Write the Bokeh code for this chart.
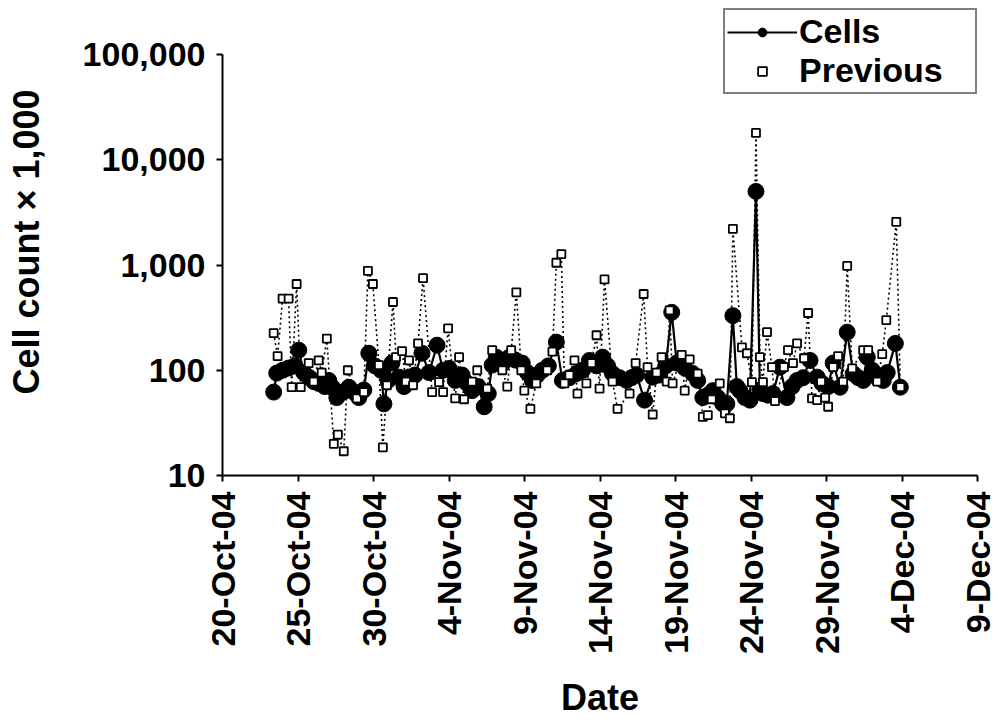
import math
from bokeh.plotting import figure
from bokeh.models import FixedTicker, Legend, LegendItem, Range1d
from bokeh.embed import file_html
from bokeh.resources import INLINE

# ---- data (days since 20-Oct-04, cell count x 1,000) ----
cells_days = [3.39, 3.59, 3.98, 4.38, 4.78, 5.05, 5.38, 5.71, 6.04, 6.37, 6.77, 7.04, 7.30, 7.57,
              7.97, 8.37, 8.70, 9.03, 9.36, 9.69, 10.09, 10.49, 10.69, 10.96, 11.22, 11.69, 12.02,
              12.35, 12.75, 13.21, 13.68, 14.21, 14.61, 15.01, 15.41, 15.87, 16.20, 16.53, 16.93,
              17.33, 17.60, 17.86, 18.13, 18.53, 18.99, 19.39, 19.85, 20.19, 20.52, 20.85, 21.18,
              21.58, 22.11, 22.51, 22.98, 23.44, 23.84, 24.30, 24.77, 25.17, 25.50, 25.83, 26.29,
              26.76, 27.09, 27.42, 27.95, 28.49, 28.95, 29.35, 29.75, 30.08, 30.61, 31.14, 31.47,
              31.81, 32.14, 32.47, 32.80, 33.13, 33.40, 33.80, 34.06, 34.26, 34.60, 34.93, 35.33,
              35.59, 35.79, 36.12, 36.45, 36.92, 37.38, 37.72, 38.05, 38.45, 38.91, 39.38, 39.71,
              40.11, 40.44, 40.90, 41.37, 41.77, 42.10, 42.43, 42.70, 43.03, 43.36, 43.76, 44.02,
              44.56, 44.89]
cells = [62, 94, 100, 105, 110, 155, 95, 86, 78, 75, 70, 80, 68, 55,
         62, 69, 62, 55, 65, 145, 110, 100, 48, 80, 117, 86, 70,
         86, 90, 145, 95, 173, 100, 104, 80, 90, 75, 64, 70,
         45, 60, 112, 133, 115, 133, 125, 117, 95, 80, 90, 100,
         110, 185, 80, 85, 93, 100, 124, 110, 133, 110, 93, 85,
         80, 85, 90, 52, 86, 90, 110, 355, 117, 105, 93, 80,
         55, 58, 64, 55, 48, 48, 330, 70, 64, 55, 52, 5000,
         65, 60, 58, 60, 107, 55, 70, 80, 85, 124, 86, 75,
         70, 117, 69, 230, 93, 85, 80, 133, 100, 85, 80, 95,
         180, 69]

prev_days = [3.39, 3.65, 3.98, 4.38, 4.58, 4.91, 5.18, 5.71, 6.04, 6.37, 6.57, 6.91, 7.37, 7.64,
             8.03, 8.30, 8.90, 9.36, 9.63, 9.96, 10.36, 10.62, 10.89, 11.29, 11.49, 11.89, 12.15,
             12.35, 12.62, 12.95, 13.28, 13.88, 14.34, 14.61, 14.94, 15.41, 15.67, 16.00, 16.53,
             16.87, 17.53, 17.86, 18.53, 18.86, 19.12, 19.46, 19.79, 19.99, 20.39, 20.78, 21.51,
             21.85, 22.11, 22.44, 22.64, 22.97, 23.31, 23.51, 24.10, 24.44, 24.77, 24.97, 25.30,
             25.83, 26.16, 26.96, 27.36, 27.89, 28.15, 28.49, 28.75, 29.08, 29.42, 29.61, 29.81,
             30.41, 30.61, 30.94, 31.47, 31.81, 32.14, 32.40, 32.93, 33.27, 33.60, 33.80, 34.40,
             34.73, 35.06, 35.33, 35.59, 35.79, 36.06, 36.39, 36.59, 37.18, 37.45, 37.78, 38.05,
             38.51, 38.78, 39.04, 39.38, 39.64, 39.91, 40.11, 40.44, 40.77, 41.10, 41.37, 41.70,
             42.43, 42.76, 43.36, 43.69, 43.96, 44.62, 44.89]
previous = [225, 136, 480, 480, 69, 660, 69, 117, 78, 124, 95, 200, 20, 24.5,
            17, 100, 54, 62, 880, 660, 112, 18.5, 72, 445, 133, 152, 78,
            124, 72, 180, 750, 62, 77, 62, 250, 54, 133, 53, 78,
            100, 67, 155, 100, 70, 155, 550, 100, 64, 43, 75, 100,
            150, 1050, 1270, 75, 90, 124, 60, 75, 117, 215, 67, 730,
            78, 43, 60, 117, 530, 107, 38, 95, 133, 78, 370, 75,
            140, 64, 127, 93, 36, 37.5, 53, 75, 39, 35, 2200, 165,
            145, 77, 18000, 133, 77, 230, 107, 51, 107, 155, 117, 180,
            130, 350, 54, 52, 78, 55, 45, 107, 136, 78, 980, 104,
            155, 155, 78, 142, 300, 2570, 69]

x_tick_days = [0, 5, 10, 15, 20, 25, 30, 35, 40, 45, 50]
x_tick_labels = ["20-Oct-04", "25-Oct-04", "30-Oct-04", "4-Nov-04", "9-Nov-04", "14-Nov-04",
                 "19-Nov-04", "24-Nov-04", "29-Nov-04", "4-Dec-04", "9-Dec-04"]
y_ticks = [10, 100, 1000, 10000, 100000]
y_tick_labels = ["10", "100", "1,000", "10,000", "100,000"]

FONT = "Liberation Sans"

# frame runs from the canvas top (room for the legend); the y axis itself stops at 100,000
Y_MIN, Y_AXIS_MAX = 10, 100000
headroom_decades = 46 / (421 / 4)
y_top = 10 ** (math.log10(Y_AXIS_MAX) + headroom_decades)

p = figure(width=998, height=724, x_range=Range1d(0, 50), y_range=Range1d(Y_MIN, y_top),
           y_axis_type="log", output_backend="svg", toolbar_location=None,
           min_border_left=222, min_border_right=21, min_border_top=8, min_border_bottom=249)
p.outline_line_color = None
p.xgrid.visible = False
p.ygrid.visible = False
p.background_fill_color = "white"

for ax in (p.xaxis[0], p.yaxis[0]):
    ax.axis_line_width = 2
    ax.axis_line_color = "black"
    ax.major_tick_line_width = 2
    ax.major_tick_line_color = "black"
    ax.major_tick_out = 6
    ax.major_tick_in = 0
    ax.minor_tick_line_color = None
    ax.major_label_text_font = FONT
    ax.major_label_text_font_style = "bold"
    ax.major_label_text_font_size = "34px"
    ax.major_label_text_color = "black"
    ax.axis_label_text_font = FONT
    ax.axis_label_text_font_style = "bold"
    ax.axis_label_text_font_size = "36px"
    ax.axis_label_text_color = "black"

p.xaxis.ticker = FixedTicker(ticks=x_tick_days, minor_ticks=[])
p.xaxis.major_label_overrides = dict(zip(x_tick_days, x_tick_labels))
p.xaxis.major_label_orientation = math.pi / 2
p.xaxis.major_label_standoff = 10
p.xaxis.axis_label = "Date"
p.xaxis.axis_label_standoff = 20

p.yaxis.ticker = FixedTicker(ticks=y_ticks, minor_ticks=[])
p.yaxis.major_label_overrides = dict(zip(y_ticks, y_tick_labels))
p.yaxis.major_label_standoff = 11
p.yaxis.bounds = (Y_MIN, Y_AXIS_MAX)
p.yaxis.axis_label = "Cell count \u00d7 1,000"
p.yaxis.axis_label_standoff = 33

cl = p.line(cells_days, cells, line_color="black", line_width=2.2)
cp = p.scatter(cells_days, cells, marker="circle", size=16, fill_color="black", line_color="black")
pl = p.line(prev_days, previous, line_color="black", line_width=1.6, line_dash="2 3")
pp = p.scatter(prev_days, previous, marker="square", size=8, fill_color="white",
               line_color="black", line_width=1.8)

legend = Legend(items=[LegendItem(label="Cells", renderers=[cl, cp]),
                       LegendItem(label="Previous", renderers=[pp])],
                location="top_right", orientation="vertical",
                label_text_font=FONT, label_text_font_style="bold", label_text_font_size="34px",
                label_text_color="black", glyph_width=70, glyph_height=22, label_standoff=2,
                label_width=174, padding=2, spacing=0, margin=0,
                border_line_color="black", border_line_width=2,
                background_fill_color="white", background_fill_alpha=1.0)
p.add_layout(legend, "center")

open("out.html", "w").write(file_html(p, INLINE))
